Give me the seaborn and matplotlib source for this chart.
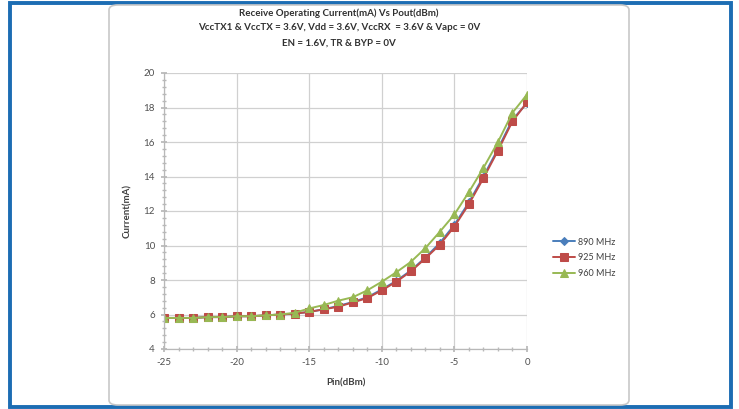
"""Receive operating current vs Pin, Excel-style chart."""

import numpy as np
import seaborn as sns
import matplotlib.pyplot as plt
from matplotlib.patches import FancyBboxPatch, Rectangle
from matplotlib.ticker import MultipleLocator

sns.set_theme(style="white")
plt.rcParams['font.family'] = ['Lato', 'DejaVu Sans']
plt.rcParams['axes.unicode_minus'] = False

pin_dbm = list(range(-25, 1))
cur_890 = [5.8, 5.8, 5.8, 5.85, 5.85, 5.9, 5.9, 5.95, 6.0, 6.05, 6.15, 6.3, 6.5, 6.72,
           7.0, 7.45, 7.95, 8.55, 9.3, 10.15, 11.2, 12.5, 14.0, 15.6, 17.3, 18.25]
cur_925 = [5.8, 5.8, 5.8, 5.85, 5.85, 5.9, 5.9, 5.95, 6.0, 6.05, 6.15, 6.3, 6.45, 6.7,
           6.95, 7.4, 7.9, 8.5, 9.25, 10.05, 11.1, 12.4, 13.9, 15.5, 17.2, 18.3]
cur_960 = [5.8, 5.8, 5.8, 5.85, 5.85, 5.9, 5.9, 5.95, 6.0, 6.1, 6.35, 6.55, 6.8, 7.0,
           7.4, 7.9, 8.45, 9.05, 9.85, 10.8, 11.8, 13.1, 14.5, 16.0, 17.7, 18.75]
labels = ["890 MHz", "925 MHz", "960 MHz"]
title_lines = ["Receive Operating Current(mA) Vs Pout(dBm)",
               "VccTX1 & VccTX = 3.6V, Vdd = 3.6V, VccRX  = 3.6V & Vapc = 0V",
               "EN = 1.6V, TR & BYP = 0V"]

fig = plt.figure(figsize=(7.39, 4.09), dpi=100)
fig.patch.set_facecolor("white")

# outer blue frame and grey chart frame
fig.add_artist(Rectangle((10 / 739, 2 / 409), 721 / 739, 404 / 409, transform=fig.transFigure,
                         fill=False, edgecolor="#1c6db3", linewidth=2.8))
fig.add_artist(FancyBboxPatch((109 / 739, 4 / 409), 520 / 739, 400 / 409, transform=fig.transFigure,
                              boxstyle="round,pad=0,rounding_size=0.012", fill=False,
                              edgecolor="#c8c8c8", linewidth=1.2))

ax = fig.add_axes([164 / 739, 1 - 349 / 409, 363 / 739, 276 / 409])

styles = [("#4a7ebb", "D", 4.5), ("#be4b48", "s", 6), ("#98b954", "^", 6)]
for vals, lab, (col, mk, ms) in zip([cur_890, cur_925, cur_960], labels, styles):
    sns.lineplot(x=pin_dbm, y=vals, ax=ax, color=col, marker=mk, markersize=ms,
                 markeredgecolor=col, linewidth=1.4, label=lab)

ax.set_xlim(-25, 0)
ax.set_ylim(4, 20)
ax.xaxis.set_major_locator(MultipleLocator(5))
ax.xaxis.set_minor_locator(MultipleLocator(1))
ax.yaxis.set_major_locator(MultipleLocator(2))
ax.yaxis.set_minor_locator(MultipleLocator(0.4))
ax.grid(True, which="major", color="#d0d0d0", linewidth=0.9)
for s in ["top", "right"]:
    ax.spines[s].set_visible(False)
for s in ["left", "bottom"]:
    ax.spines[s].set_color("#b8b8b8")
    ax.spines[s].set_linewidth(0.9)
ax.tick_params(which="major", direction="inout", length=5, color="#b8b8b8",
               labelsize=7, labelcolor="#505050", left=True, bottom=True, pad=4)
ax.tick_params(which="minor", direction="inout", length=3, color="#b8b8b8",
               left=True, bottom=True)
ax.set_xlabel("Pin(dBm)", fontsize=7, fontweight="bold", color="#404040", labelpad=8)
ax.set_ylabel("Current(mA)", fontsize=7, fontweight="bold", color="#404040", labelpad=8)

leg = ax.legend(loc="center left", bbox_to_anchor=(1.05, 0.33), frameon=False,
                fontsize=6.5, handlelength=2.4, labelspacing=0.75, handletextpad=0.3)
for t in leg.get_texts():
    t.set_color("#404040")

for i, line in enumerate(title_lines):
    fig.text(339 / 739, 1 - (13 + 15 * i) / 409, line, ha="center", va="center",
             fontsize=7, fontweight="bold", color="#303030")

fig.savefig("out.png", dpi=100)
